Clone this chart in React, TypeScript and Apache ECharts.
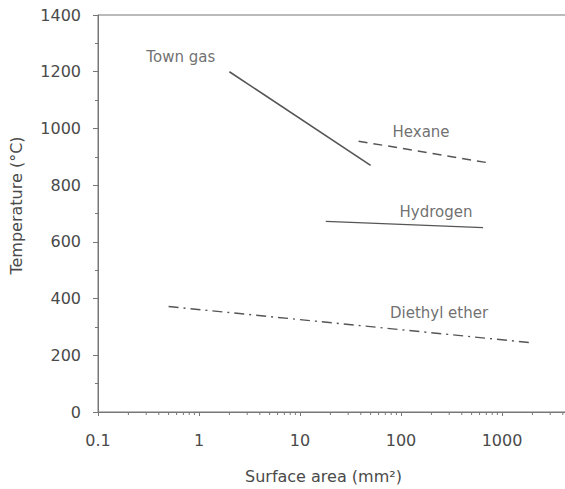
import React, { useEffect, useRef } from "react";
import * as echarts from "echarts";

const townGas: [number, number][] = [[2, 1200], [50, 870]];
const hexane: [number, number][] = [[38, 955], [700, 880]];
const hydrogen: [number, number][] = [[18, 672], [650, 650]];
const diethylEther: [number, number][] = [[0.5, 372], [2000, 244]];

const seriesNames = ["Town gas", "Hexane", "Hydrogen", "Diethyl ether"];
const labelAnchors: [number, number][] = [[0.66, 1251], [158, 986], [222, 707], [238, 350]];

const minorX: number[] = [];
for (const d of [0.1, 1, 10, 100, 1000]) {
  for (let k = 2; k <= 9; k++) minorX.push(+(k * d).toPrecision(3));
}

const FONT = "DejaVu Sans, Verdana, sans-serif";
const GREY = "#4a4a4a";
const AXIS = "#777";

export default function App() {
  const ref = useRef<HTMLDivElement>(null);
  useEffect(() => {
    document.body.style.margin = "0";
    const chart = echarts.init(ref.current!, null, { renderer: "svg" });
    const lineSeries = (name: string, data: [number, number][], type: any, width: number) => ({
      name,
      type: "line",
      data,
      symbol: "none",
      lineStyle: { color: "#555", width, type },
      label: { show: false },
    });
    chart.setOption({
      animation: false,
      grid: {
        left: 98, top: 15, width: 505, height: 397,
        outerBoundsMode: "none",
        containLabel: false,
        show: true, borderColor: AXIS, borderWidth: 1,
      },
      graphic: [
        {
          type: "text",
          left: 337 - 92,
          top: 468,
          style: { text: "Surface area (mm²)", font: `16px ${FONT}`, fill: GREY },
        },
      ],
      xAxis: {
        type: "log",
        min: 0.1,
        max: 10000,
        logBase: 10,
        axisLine: { lineStyle: { color: AXIS } },
        axisTick: { show: true, length: 4, lineStyle: { color: AXIS } },
        axisLabel: {
          fontFamily: FONT, fontSize: 16, color: GREY, margin: 20,
          formatter: (v: number) => (v >= 10000 ? "" : String(v)),
        },
        splitLine: { show: false },
      },
      yAxis: {
        type: "value",
        min: 0,
        max: 1400,
        interval: 200,
        name: "Temperature (°C)",
        nameLocation: "middle",
        nameGap: 74,
        nameTextStyle: { fontFamily: FONT, fontSize: 16, color: GREY, padding: [0, 0, 0, 16] },
        axisLine: { show: true, lineStyle: { color: AXIS } },
        axisTick: { show: true, length: 5, lineStyle: { color: AXIS } },
        minorTick: { show: true, splitNumber: 2, length: 3, lineStyle: { color: AXIS } },
        axisLabel: { fontFamily: FONT, fontSize: 16, color: GREY, margin: 17, formatter: (v: number) => String(v) },
        splitLine: { show: false },
      },
      series: [
        lineSeries(seriesNames[0], townGas, "solid", 1.6),
        lineSeries(seriesNames[1], hexane, [9, 6], 1.5),
        lineSeries(seriesNames[2], hydrogen, "solid", 1.2),
        lineSeries(seriesNames[3], diethylEther, [10, 5, 2, 5], 1.4),
        {
          type: "custom",
          data: minorX.map((x) => [x, 0]),
          clip: false,
          silent: true,
          renderItem: (params: any, api: any) => {
            const p = api.coord([api.value(0), 0]);
            return {
              type: "line",
              shape: { x1: p[0], y1: p[1], x2: p[0], y2: p[1] + 3 },
              style: { stroke: AXIS, lineWidth: 1 },
            };
          },
        },
        {
          type: "scatter",
          data: labelAnchors,
          symbolSize: 0,
          silent: true,
          label: {
            show: true,
            position: "inside",
            fontFamily: FONT,
            fontSize: 15,
            color: GREY,
            formatter: (p: any) => seriesNames[p.dataIndex],
          },
        },
      ],
    });
    return () => chart.dispose();
  }, []);
  return <div ref={ref} style={{ width: 565, height: 489 }} />;
}
